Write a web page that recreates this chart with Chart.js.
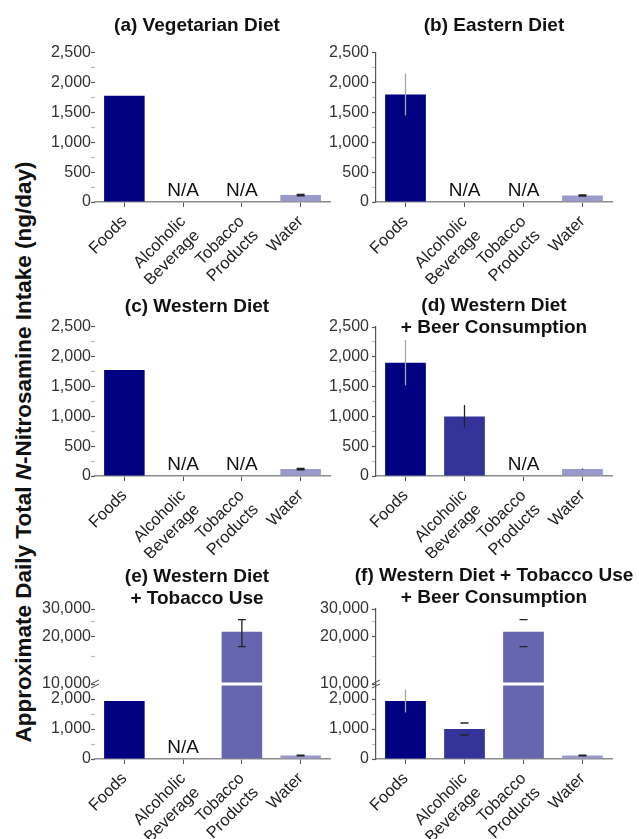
<!DOCTYPE html>
<html>
<head>
<meta charset="utf-8">
<script src="https://cdn.jsdelivr.net/npm/chart.js@4/dist/chart.umd.min.js"></script>
<style>
  html, body { margin: 0; padding: 0; background: #fff; overflow: hidden; }
  body { position: relative; width: 639px; height: 839px; }
  canvas { position: absolute; }
  #ytitle {
    position: absolute; left: 24px; top: 452px;
    transform: translate(-50%, -50%) rotate(-90deg);
    white-space: nowrap; color: #111;
    font: bold 22.5px 'Liberation Sans', Arial, sans-serif;
  }
</style>
</head>
<body>
<div id="ytitle">Approximate Daily Total <i>N</i>-Nitrosamine Intake (ng/day)</div>
<script>
const categories = ['Foods', ['Alcoholic', 'Beverage'], ['Tobacco', 'Products'], 'Water'];
const barColors = ['#000080', '#333399', '#6666b0', '#9999cc'];

// intake in ng/day, null = N/A
const vegetarian = [1780, null, null, 117];
const vegetarianErr = [null, null, null, 12];
const eastern = [1800, null, null, 110];
const easternErr = [350, null, null, 10];
const western = [1780, null, null, 117];
const westernErr = [null, null, null, 12];
const westernBeer = [1900, 1000, null, 117];
const westernBeerErr = [380, 190, null, 8];
const westernTobacco = [1930, null, 21500, 117];
const westernTobaccoErr = [null, null, 4200, 15];
const westernTobaccoBeer = [1930, 1000, 21500, 117];
const westernTobaccoBeerErr = [380, 200, 4200, 15];

// y ticks: labelled and minor
const mainTicks = [0, 500, 1000, 1500, 2000, 2500];
const mainMinor = [250, 750, 1250, 1750, 2250];
const lowTicks = [0, 1000, 2000];
const lowMinor = [500, 1500];
const highTicks = [10000, 20000, 30000];
const highMinor = [15000, 25000];
const breakLow = 2500, breakHigh = 10000;

Chart.defaults.font.family = "'Liberation Sans', Arial, sans-serif";
Chart.defaults.animation = false;

// spacer = empty box on the right so the full-width title sits where it should
const leftCol = { left: 33, width: 328, axisW: 62, spacer: 31, axisLine: false, labelPad: 0 };
const rightCol = { left: 314, width: 360, axisW: 62, spacer: 62, axisLine: true, labelPad: 3 };

const panels = [
  { title: '(a) Vegetarian Diet', values: vegetarian, errors: vegetarianErr, col: leftCol, top: 0, height: 284, titlePad: { top: 14.5, bottom: 16.5 }, caps: true },
  { title: '(b) Eastern Diet', values: eastern, errors: easternErr, col: rightCol, top: 0, height: 284, titlePad: { top: 14.5, bottom: 16.5 }, caps: true },
  { title: '(c) Western Diet', values: western, errors: westernErr, col: leftCol, top: 285, height: 273, titlePad: { top: 10.5, bottom: 9.6 }, caps: true },
  { title: ['(d) Western Diet', '+ Beer Consumption'], values: westernBeer, errors: westernBeerErr, col: rightCol, top: 285, height: 273, titlePad: { top: 10, bottom: -11.7 }, caps: false },
  { title: ['(e) Western Diet', '+ Tobacco Use'], values: westernTobacco, errors: westernTobaccoErr, broken: true, col: leftCol, top: 555, height: 286, titlePad: { top: 11, bottom: -0.7 }, caps: true },
  { title: ['(f) Western Diet + Tobacco Use', '+ Beer Consumption'], values: westernTobaccoBeer, errors: westernTobaccoBeerErr, broken: true, col: rightCol, top: 555, height: 286, titlePad: { top: 9.5, bottom: 0.8 }, caps: true, capsOnly: true },
];

function yScale(col, ticks, minor, extra) {
  const all = ticks.concat(minor).sort((a, b) => a - b);
  return Object.assign({
    position: 'left',
    afterBuildTicks: s => { s.ticks = all.map(v => ({ value: v })); },
    afterFit: s => { s.width = col.axisW; },
    ticks: {
      autoSkip: false, padding: col.labelPad, color: '#333', font: { size: 16 },
      callback: v => ticks.includes(v) ? v.toLocaleString('en-US') : ''
    },
    grid: {
      drawOnChartArea: false, tickLength: 4, tickWidth: 1.2,
      tickColor: c => (c.tick && ticks.includes(c.tick.value)) ? '#555' : '#bbb'
    },
    border: { display: col.axisLine, color: '#555', width: 1.2 }
  }, extra);
}

function naLabels(p) {
  return {
    id: 'naLabels',
    afterDatasetsDraw(chart) {
      const { ctx, scales } = chart;
      ctx.save();
      ctx.font = "19px 'Liberation Sans', Arial, sans-serif";
      ctx.fillStyle = '#111';
      ctx.textAlign = 'center';
      ctx.textBaseline = 'bottom';
      p.values.forEach((v, i) => {
        if (v == null) ctx.fillText('N/A', scales.x.getPixelForValue(i), scales.y.getPixelForValue(0) - 2);
      });
      ctx.restore();
    }
  };
}

// white gap through the bars and break marks on the axis
const axisBreak = {
  id: 'axisBreak',
  afterDatasetsDraw(chart) {
    if (!chart.scales.y2) return;
    const { ctx, chartArea } = chart;
    const yb = chart.scales.y.top;
    ctx.save();
    ctx.fillStyle = '#fff';
    ctx.fillRect(chartArea.left + 1, yb - 1.5, chartArea.right - chartArea.left, 3);
    ctx.strokeStyle = '#444';
    ctx.lineWidth = 1;
    const x = chartArea.left;
    for (const dy of [-2, 2]) {
      ctx.beginPath();
      ctx.moveTo(x - 4, yb + dy + 2);
      ctx.lineTo(x + 4, yb + dy - 2);
      ctx.stroke();
    }
    ctx.restore();
  }
};

function errorBars(p) {
  return {
    id: 'errorBars',
    afterDatasetsDraw(chart) {
      const { ctx, scales } = chart;
      const yFor = v => (scales.y2 && v > breakLow ? scales.y2 : scales.y).getPixelForValue(v);
      ctx.save();
      ctx.lineWidth = 1.3;
      p.values.forEach((v, i) => {
        const e = p.errors[i];
        if (v == null || e == null) return;
        const x = scales.x.getPixelForValue(i);
        const top = yFor(v + e), bottom = yFor(Math.max(v - e, 0));
        const foods = i === 0;
        ctx.strokeStyle = foods ? '#a6a6a6' : '#222';
        if (!p.capsOnly || foods) {
          ctx.beginPath(); ctx.moveTo(x, top); ctx.lineTo(x, bottom); ctx.stroke();
        }
        if (p.caps && !foods) {
          ctx.beginPath();
          ctx.moveTo(x - 4, top); ctx.lineTo(x + 4, top);
          ctx.moveTo(x - 4, bottom); ctx.lineTo(x + 4, bottom);
          ctx.stroke();
        }
      });
      ctx.restore();
    }
  };
}

panels.forEach(p => {
  const canvas = document.createElement('canvas');
  canvas.width = p.col.width;
  canvas.height = p.height;
  canvas.style.left = p.col.left + 'px';
  canvas.style.top = p.top + 'px';
  document.body.appendChild(canvas);

  const barBase = { backgroundColor: barColors, borderWidth: 0, grouped: false, barPercentage: 0.69, categoryPercentage: 1 };
  let datasets, yScales;
  if (p.broken) {
    datasets = [
      Object.assign({ data: p.values.map(v => v == null ? null : Math.min(v, breakLow)), yAxisID: 'y' }, barBase),
      Object.assign({ data: p.values.map(v => v != null && v > breakHigh ? [breakHigh, v] : null), yAxisID: 'y2' }, barBase)
    ];
    yScales = {
      y2: yScale(p.col, highTicks, highMinor, { type: 'logarithmic', min: breakHigh, max: 30000, stack: 'v', stackWeight: 1, weight: 1 }),
      y: yScale(p.col, lowTicks, lowMinor, { min: 0, max: breakLow, stack: 'v', stackWeight: 1, weight: 0 })
    };
  } else {
    datasets = [Object.assign({ data: p.values, yAxisID: 'y' }, barBase)];
    yScales = { y: yScale(p.col, mainTicks, mainMinor, { min: 0, max: 2500 }) };
  }

  new Chart(canvas, {
    type: 'bar',
    data: { labels: categories, datasets },
    options: {
      responsive: false,
      layout: { padding: 0 },
      plugins: {
        legend: { display: false },
        tooltip: { enabled: false },
        title: {
          display: true, text: p.title, color: '#111',
          font: { size: 19, weight: 'bold', lineHeight: 1.15 },
          padding: p.titlePad
        }
      },
      scales: Object.assign({
        x: {
          afterFit: s => { s.height = 82; },
          grid: { offset: false, drawOnChartArea: false, tickLength: 5, tickColor: '#555' },
          border: { color: '#8c8c8c', width: 1.5 },
          ticks: { autoSkip: false, maxRotation: 45, minRotation: 45, color: '#222', font: { size: 16.5 }, padding: 5 }
        },
        spacer: {
          type: 'linear', position: 'right',
          afterFit: s => { s.width = p.col.spacer; },
          grid: { display: false }, border: { display: false }, ticks: { display: false }
        }
      }, yScales)
    },
    plugins: [axisBreak, errorBars(p), naLabels(p)]
  });
});
</script>
</body>
</html>
